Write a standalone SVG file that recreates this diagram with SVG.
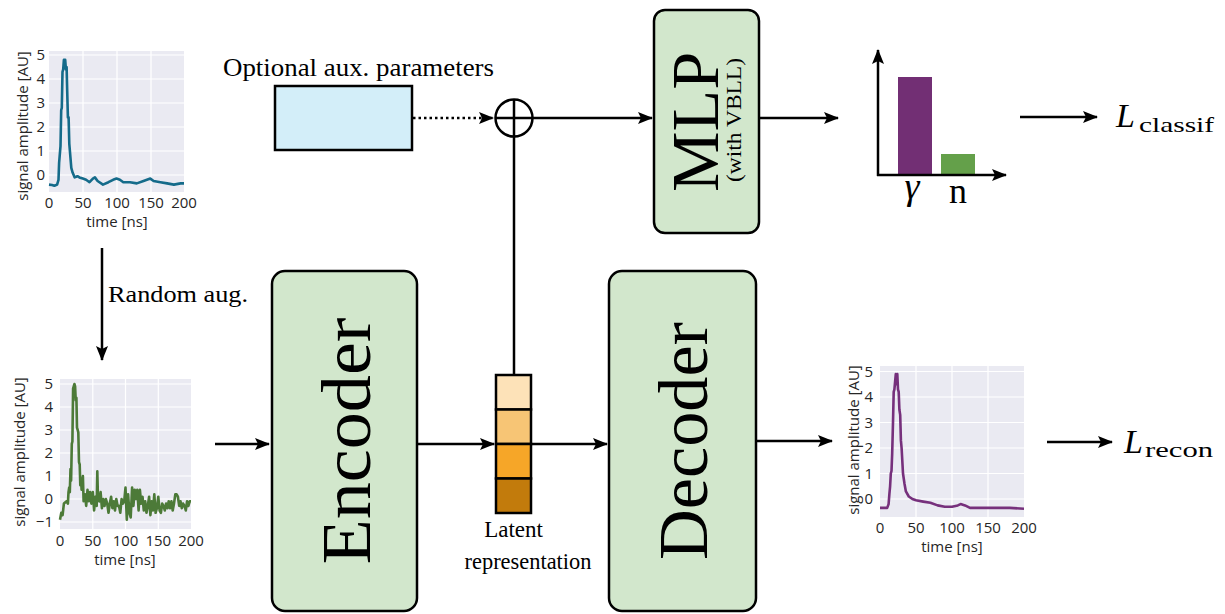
<svg xmlns="http://www.w3.org/2000/svg" width="1225" height="614" viewBox="0 0 1225 614">
<style>
.box{fill:#d2e7cc;stroke:#000;stroke-width:2.5}
.cm{font-family:"Liberation Serif","DejaVu Serif",serif;fill:#000}
.ax{fill:#eaeaf2}
.grid{stroke:#fff;stroke-width:1.2;fill:none}
.tk{font-family:"Open Sans","DejaVu Sans",sans-serif;font-size:15px;fill:#262626}
.ln{stroke:#000;stroke-width:2.5;fill:none}
.sig{fill:none;stroke-width:2.6;stroke-linejoin:round}
</style>
<defs>
<marker id="ah" markerWidth="16" markerHeight="12" refX="14" refY="6" orient="auto" markerUnits="userSpaceOnUse">
<path d="M0,0 L15,6 L0,12 L3,6 z" fill="#000"/>
</marker>
</defs>

<!-- top-left plot -->
<g id="plot-input">
<rect class="ax" x="49" y="51" width="135" height="141"/>
<path class="grid" d="M49,175H184M49,151H184M49,127H184M49,103H184M49,79H184M49,55H184M83,51V192M117,51V192M151,51V192"/>
<polyline class="sig" stroke="#156b8a" points="49,184.6 52,185 54.4,185.8 57.1,184.6 58.5,179.8 59.1,163 60.5,146.2 61.2,110.2 61.8,107.8 62.5,71.8 63.2,69.4 63.9,59.8 65.2,59.8 65.9,69.4 66.6,67 67.2,91 67.9,117.4 68.6,117.4 69.3,143.8 69.9,151 71.3,167.8 72.6,172.6 74.7,177.4 77.4,176.2 79.4,177.4 82.8,178.6 86.1,179.8 89.5,182.2 92.9,178.6 94.9,177.4 97.6,181 103,184.6 108.4,182.2 113.1,179.8 116.5,178.6 119.9,179.8 123.3,182.2 130,182.2 136.8,183.4 143.5,181 150.3,178.6 153.6,181 160.4,182.2 167.1,183.4 173.9,184.6 180.6,183.4 184,183.4"/>
<g class="tk" text-anchor="end">
<text x="45" y="180">0</text><text x="45" y="156">1</text><text x="45" y="132">2</text><text x="45" y="108">3</text><text x="45" y="84">4</text><text x="45" y="60">5</text>
</g>
<g class="tk" text-anchor="middle">
<text x="49" y="208">0</text><text x="83" y="208">50</text><text x="117" y="208">100</text><text x="151" y="208">150</text><text x="184" y="208">200</text>
<text x="117" y="227">time [ns]</text>
<text transform="translate(28,126) rotate(-90)">signal amplitude [AU]</text>
</g>
</g>

<!-- bottom-left plot -->
<g id="plot-augmented">
<rect class="ax" x="60" y="379" width="131" height="150"/>
<path class="grid" d="M60,522H191M60,499H191M60,476H191M60,453H191M60,430H191M60,407H191M60,384H191M92.8,379V529M125.5,379V529M158.3,379V529"/>
<polyline class="sig" stroke="#4c7a38" points="60,519.7 61.3,512.8 62.6,515.1 63.9,503.6 66.6,501.3 67.9,503.6 68.5,492.1 69.2,487.5 69.8,492.1 70.5,469.1 71.1,480.6 71.8,443.8 72.4,441.5 73.1,388.6 74.4,384 75.1,386.3 75.7,400.1 76.4,397.8 77,427.7 77.7,430 78.3,432.3 79,462.2 79.7,464.5 80.3,485.2 81,478.3 81.6,489.8 82.9,476 83.6,501.3 84.9,494.4 86.2,505.9 87.5,489.8 88.8,501.3 90.1,492.1 91.4,503.6 92.8,492.1 94.1,510.5 95.4,496.7 96.7,505.9 97.3,471.4 98,499 99.3,501.3 100.6,492.1 101.9,508.2 103.2,499 104.5,505.9 105.9,499 107.2,503.6 108.5,512.8 109.8,503.6 111.1,496.7 112.4,508.2 113.7,501.3 115,510.5 116.3,499 117.6,505.9 119,505.9 120.3,512.8 121.6,499 122.9,503.6 124.2,501.3 125.5,487.5 126.8,519.7 128.1,494.4 129.4,512.8 130.7,517.4 132.1,487.5 133.4,505.9 134.7,489.8 136,499 137.3,489.8 138.6,510.5 139.9,489.8 141.2,503.6 142.5,496.7 143.8,510.5 145.2,501.3 146.5,512.8 147.8,505.9 149.1,496.7 150.4,515.1 151.7,501.3 153,510.5 154.3,494.4 155.6,512.8 156.9,508.2 158.3,496.7 159.6,510.5 160.9,512.8 162.2,503.6 163.5,505.9 164.8,510.5 166.1,503.6 167.4,508.2 168.7,501.3 170,508.2 171.4,501.3 172.7,510.5 174,503.6 175.3,494.4 176.6,494.4 177.9,496.7 179.2,505.9 180.5,501.3 181.8,508.2 183.1,503.6 184.5,505.9 185.8,510.5 187.1,501.3 188.4,505.9 189.7,501.3 191,501.3"/>
<g class="tk" text-anchor="end">
<text x="53" y="527">−1</text><text x="53" y="504">0</text><text x="53" y="481">1</text><text x="53" y="458">2</text><text x="53" y="435">3</text><text x="53" y="412">4</text><text x="53" y="389">5</text>
</g>
<g class="tk" text-anchor="middle">
<text x="60" y="546">0</text><text x="92.8" y="546">50</text><text x="125.5" y="546">100</text><text x="158.3" y="546">150</text><text x="191" y="546">200</text>
<text x="125" y="565">time [ns]</text>
<text transform="translate(25,452) rotate(-90)">signal amplitude [AU]</text>
</g>
</g>

<!-- bottom-right plot -->
<g id="plot-reconstruction">
<rect class="ax" x="880" y="366" width="144" height="151"/>
<path class="grid" d="M880,499H1024M880,473.5H1024M880,448H1024M880,422.5H1024M880,397H1024M880,371.5H1024M916,366V517M952,366V517M988,366V517"/>
<polyline class="sig" stroke="#76307c" points="880,507.9 887.2,507.9 888.6,504.1 889.4,493.9 890.1,486.3 890.8,473.5 891.5,471 892.2,453.1 893,422.5 893.7,391.9 894.4,389.4 895.1,381.7 895.8,374.1 896.6,384.3 897.3,374.1 898,389.4 898.7,391.9 899.4,409.8 900.2,414.9 900.9,440.4 901.6,448 902.3,460.8 903,473.5 904.5,483.7 905.9,491.4 908.8,496.5 912.4,499 916,500.3 923.2,501.6 930.4,502.8 937.6,505.4 944.8,506.7 952,506.7 957.8,505.4 960.6,504.1 965,505.4 970,507.9 980.8,507.9 995.2,507.9 1009.6,507.9 1024,508.7"/>
<g class="tk" text-anchor="end">
<text x="873" y="504">0</text><text x="873" y="478.5">1</text><text x="873" y="453">2</text><text x="873" y="427.5">3</text><text x="873" y="402">4</text><text x="873" y="376.5">5</text>
</g>
<g class="tk" text-anchor="middle">
<text x="880" y="533">0</text><text x="916" y="533">50</text><text x="952" y="533">100</text><text x="988" y="533">150</text><text x="1024" y="533">200</text>
<text x="952" y="552">time [ns]</text>
<text transform="translate(859,440) rotate(-90)">signal amplitude [AU]</text>
</g>
</g>

<!-- aux parameters -->
<g id="aux">
<text class="cm" x="223" y="76" font-size="25" textLength="271" lengthAdjust="spacingAndGlyphs">Optional aux. parameters</text>
<rect x="275" y="86" width="137" height="64" fill="#d3eef9" stroke="#000" stroke-width="2.5"/>
</g>

<!-- concat -->
<g id="concat">
<circle cx="514" cy="118" r="18.5" fill="none" stroke="#000" stroke-width="2.5"/>
<path class="ln" d="M495.5,118H532.5M514,99.5V136.5"/>
</g>

<!-- MLP -->
<g id="mlp">
<rect class="box" x="654" y="10" width="105" height="223" rx="11"/>
<text class="cm" font-size="68" text-anchor="middle" transform="translate(718,122) rotate(-90)" textLength="140" lengthAdjust="spacingAndGlyphs">MLP</text>
<text class="cm" font-size="21" text-anchor="middle" transform="translate(741,120) rotate(-90)" textLength="124" lengthAdjust="spacingAndGlyphs">(with VBLL)</text>
</g>

<!-- encoder -->
<g id="encoder">
<rect class="box" x="272" y="271" width="145" height="340" rx="13"/>
<text class="cm" font-size="70" text-anchor="middle" transform="translate(370,441) rotate(-90)" textLength="247" lengthAdjust="spacingAndGlyphs">Encoder</text>
</g>

<!-- decoder -->
<g id="decoder">
<rect class="box" x="609" y="271" width="147" height="340" rx="13"/>
<text class="cm" font-size="70" text-anchor="middle" transform="translate(707,441) rotate(-90)" textLength="238" lengthAdjust="spacingAndGlyphs">Decoder</text>
</g>

<!-- latent -->
<g id="latent">
<rect x="496" y="375" width="35" height="34.5" fill="#fde2b8" stroke="#000" stroke-width="2.5"/>
<rect x="496" y="409.5" width="35" height="34.5" fill="#f7c575" stroke="#000" stroke-width="2.5"/>
<rect x="496" y="444" width="35" height="34.5" fill="#f6a628" stroke="#000" stroke-width="2.5"/>
<rect x="496" y="478.5" width="35" height="34.5" fill="#c27b0c" stroke="#000" stroke-width="2.5"/>
<text class="cm" x="513.5" y="537" font-size="23" text-anchor="middle">Latent</text>
<text class="cm" x="528" y="569" font-size="23" text-anchor="middle" textLength="127" lengthAdjust="spacingAndGlyphs">representation</text>
</g>

<!-- bar chart -->
<g id="classif-bars">
<rect x="898" y="77" width="34" height="98" fill="#722f74"/>
<rect x="941" y="154" width="34" height="21" fill="#64a04a"/>
<path class="ln" d="M878,176V50" marker-end="url(#ah)"/>
<path class="ln" d="M877,175H1006" marker-end="url(#ah)"/>
<text class="cm" x="912" y="199" font-size="38" font-style="italic" text-anchor="middle">γ</text>
<text class="cm" x="958" y="203" font-size="36" text-anchor="middle">n</text>
</g>

<!-- losses -->
<g id="loss-classif">
<text class="cm" x="1116" y="127" font-size="34" font-style="italic">L</text>
<text class="cm" x="1139" y="132" font-size="22" textLength="75" lengthAdjust="spacingAndGlyphs">classif</text>
</g>
<g id="loss-recon">
<text class="cm" x="1124" y="453" font-size="34" font-style="italic">L</text>
<text class="cm" x="1145" y="457" font-size="22" textLength="68" lengthAdjust="spacingAndGlyphs">recon</text>
</g>

<!-- connectors -->
<g id="connectors">
<path class="ln" d="M413,118H493" stroke-dasharray="2.5 3" marker-end="url(#ah)"/>
<path class="ln" d="M532.5,118H652" marker-end="url(#ah)"/>
<path class="ln" d="M514,136.5V375"/>
<path class="ln" d="M759,118H838" marker-end="url(#ah)"/>
<path class="ln" d="M1020,117H1097" marker-end="url(#ah)"/>
<path class="ln" d="M102,248V360" marker-end="url(#ah)"/>
<text class="cm" x="108" y="302" font-size="24" textLength="140" lengthAdjust="spacingAndGlyphs">Random aug.</text>
<path class="ln" d="M215,444H269" marker-end="url(#ah)"/>
<path class="ln" d="M417,444H494" marker-end="url(#ah)"/>
<path class="ln" d="M531,444H607" marker-end="url(#ah)"/>
<path class="ln" d="M756,441H832" marker-end="url(#ah)"/>
<path class="ln" d="M1047,442H1112" marker-end="url(#ah)"/>
</g>
</svg>
